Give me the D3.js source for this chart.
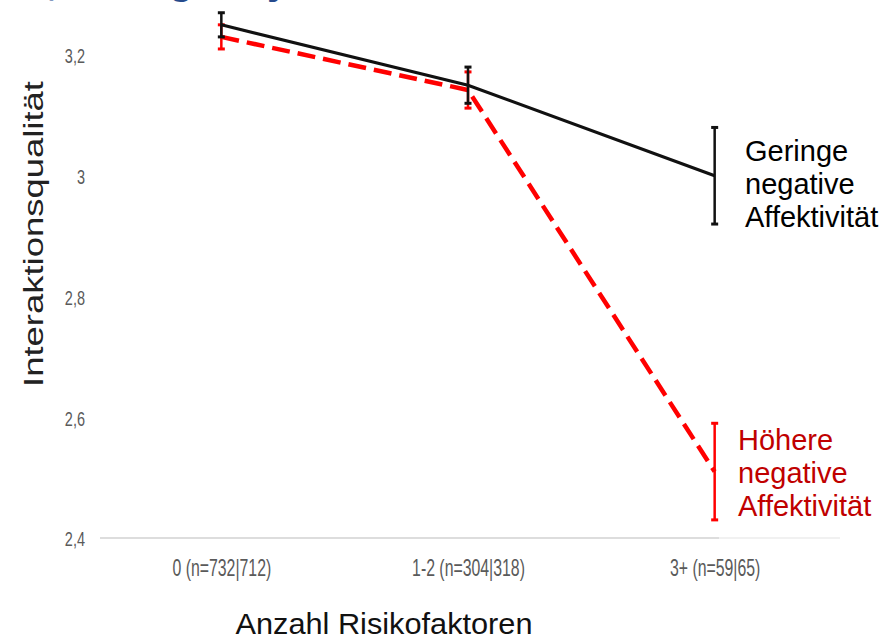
<!DOCTYPE html>
<html><head><meta charset="utf-8">
<script src="https://cdn.jsdelivr.net/npm/d3@7"></script>
<style>
html,body{margin:0;padding:0;background:#fff;}
svg{display:block;}
</style></head>
<body>
<svg id="chart" width="883" height="641"></svg>
<script>
const categories = ["0 (n=732|712)", "1-2 (n=304|318)", "3+ (n=59|65)"];
const lowNA = [3.25, 3.15, 3.00];
const lowNAErr = [0.02, 0.03, 0.08];
const highNA = [3.23, 3.142, 2.51];
const highNAErr = [0.02, 0.03, 0.08];
const yTicks = [2.4, 2.6, 2.8, 3.0, 3.2];
const lowLabel = ["Geringe", "negative", "Affektivität"];
const highLabel = ["Höhere", "negative", "Affektivität"];
const yTitle = "Interaktionsqualität";
const xTitle = "Anzahl Risikofaktoren";

const svg = d3.select("#chart");
const x = d3.scalePoint().domain(categories).range([98, 838]).padding(0.5);
const y = d3.scaleLinear().domain([2.4, 3.2]).range([538, 55]);
const fmt = v => String(+v.toFixed(1)).replace(".", ",");

// cropped title remnants (only descenders visible, as in the reference)
const title = svg.append("text").attr("y", -6)
  .attr("font-family", "Liberation Sans, Arial, sans-serif")
  .attr("font-weight", "bold").attr("font-size", 40).attr("fill", "#264a8c");
title.append("tspan").attr("x", -42).text("Kind, Rating –");
title.append("tspan").attr("x", 238).text("Dyade");

// baseline
svg.append("line").attr("x1", 100).attr("x2", 840).attr("y1", y(2.4)).attr("y2", y(2.4))
  .attr("stroke", "#d2d2d2").attr("stroke-width", 1.5);

// y axis
const yAxis = svg.append("g").attr("transform", "translate(85,0)")
  .call(d3.axisLeft(y).tickValues(yTicks).tickSize(0).tickPadding(0).tickFormat(fmt));
yAxis.select(".domain").remove();
yAxis.selectAll("text").attr("font-family", "Liberation Sans, Arial, sans-serif")
  .attr("font-size", 21).attr("fill", "#5a5a5a").attr("text-anchor", "end")
  .attr("x", 0).attr("dy", "0.37em").attr("transform", "scale(0.69,1)");

// x axis
const xAxis = svg.append("g").attr("transform", "translate(0,576)")
  .call(d3.axisBottom(x).tickSize(0).tickPadding(0));
xAxis.select(".domain").remove();
xAxis.selectAll("text").attr("font-family", "Liberation Sans, Arial, sans-serif")
  .attr("font-size", 24).attr("fill", "#5a5a5a").attr("y", 0).attr("dy", 0)
  .attr("transform", "scale(0.66,1)");

// axis titles
svg.append("text").attr("transform", "translate(43,234) rotate(-90)")
  .attr("text-anchor", "middle").attr("font-family", "Liberation Sans, Arial, sans-serif")
  .attr("font-size", 27).attr("fill", "#222").attr("textLength", 306).attr("lengthAdjust", "spacingAndGlyphs")
  .text(yTitle);
svg.append("text").attr("x", 384).attr("y", 634)
  .attr("text-anchor", "middle").attr("font-family", "Liberation Sans, Arial, sans-serif")
  .attr("font-size", 30).attr("fill", "#111").attr("textLength", 297).attr("lengthAdjust", "spacingAndGlyphs")
  .text(xTitle);

const line = d3.line().x((d, i) => x(categories[i])).y(d => y(d));

function errBars(vals, errs, color, w) {
  const g = svg.append("g").attr("stroke", color).attr("stroke-width", w).attr("fill", "none");
  vals.forEach((v, i) => {
    const cx = x(categories[i]);
    g.append("line").attr("x1", cx).attr("x2", cx).attr("y1", y(v + errs[i])).attr("y2", y(v - errs[i]));
    [v + errs[i], v - errs[i]].forEach(e => {
      g.append("line").attr("x1", cx - 3.5).attr("x2", cx + 3.5).attr("y1", y(e)).attr("y2", y(e)).attr("stroke-width", 3);
    });
  });
}

// red dashed series
svg.append("path").datum(highNA).attr("d", line).attr("fill", "none")
  .attr("stroke", "#ff0000").attr("stroke-width", 4.5).attr("stroke-dasharray", "18,8");
errBars(highNA, highNAErr, "#ff0000", 2.5);

// black series
svg.append("path").datum(lowNA).attr("d", line).attr("fill", "none")
  .attr("stroke", "#111").attr("stroke-width", 3.2);
errBars(lowNA, lowNAErr, "#111", 2.5);

// label box background (lightens baseline behind)
svg.append("rect").attr("x", 719).attr("y", 412).attr("width", 164).attr("height", 128)
  .attr("fill", "#fff").attr("opacity", 0.6);

function label(lines, x0, yBase, color) {
  const t = svg.append("text").attr("font-family", "Liberation Sans, Arial, sans-serif")
    .attr("font-size", 29).attr("fill", color);
  lines.forEach((s, i) => t.append("tspan").attr("x", x0).attr("y", yBase + i * 33).text(s));
}
label(lowLabel, 745, 161, "#000");
label(highLabel, 738, 450, "#c00000");
</script>
</body></html>
